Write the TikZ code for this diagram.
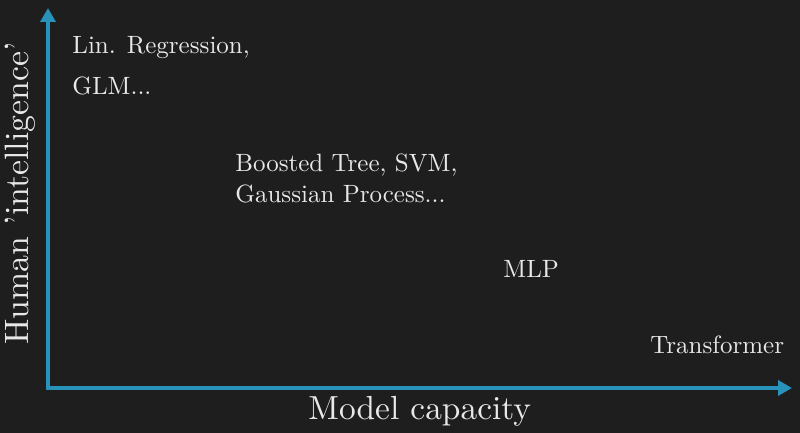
\documentclass[tikz,border=0pt]{standalone}
\usepackage{fontspec}
\setmainfont{lmroman10-regular.otf}
\usetikzlibrary{arrows.meta}
\definecolor{bgc}{RGB}{30,30,30}
\definecolor{axisc}{RGB}{41,146,186}
\definecolor{txtc}{RGB}{232,232,232}
\tikzset{
  px/.style={x=0.5pt,y=-0.5pt},
  axis/.style={draw=axisc,line width=1.8pt,line join=miter,
    {Triangle[length=7pt,width=7.5pt]}-{Triangle[length=7pt,width=7.5pt]}},
  item/.style={text=txtc,inner sep=0pt,anchor=base west,
    font=\fontsize{12.5}{15}\selectfont},
  axlabel/.style={text=txtc,inner sep=0pt,anchor=base west,
    font=\fontsize{16.7}{20}\selectfont}
}
\begin{document}
\begin{tikzpicture}[px]
\fill[bgc] (0,0) rectangle (800,433);
\useasboundingbox (0,0) rectangle (800,433);
\coordinate (ytip) at (48,8);
\coordinate (origin) at (48,388);
\coordinate (xtip) at (792,388);
\draw[axis] (ytip) -- (origin) -- (xtip);
\node[item] (lin) at (72,54) {Lin. Regression,};
\node[item] (glm) at (72,95) {GLM...};
\node[item] (boost) at (235,172) {Boosted Tree, SVM,};
\node[item] (gp) at (235,203) {Gaussian Process...};
\node[item] (mlp) at (503,278) {MLP};
\node[item] (tf) at (650,354) {Transformer};
\node[axlabel] (xl) at (308,420) {Model capacity};
\node[axlabel,rotate=90,font=\fontsize{16.9}{20}\selectfont] (yl) at (28,345) {Human 'intelligence'};
\end{tikzpicture}
\end{document}
